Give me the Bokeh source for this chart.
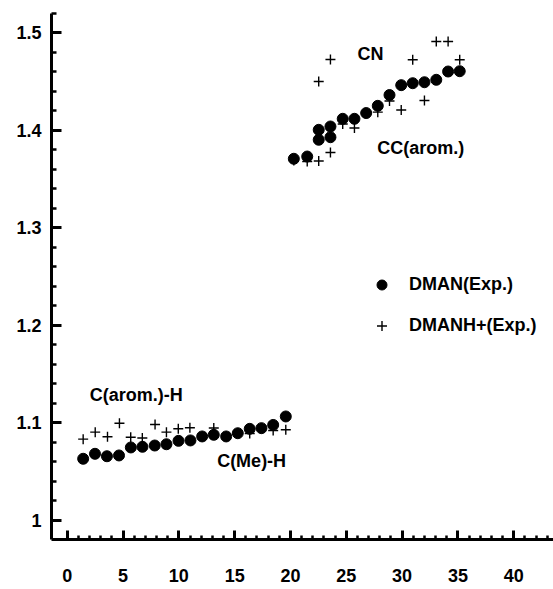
from bokeh.plotting import figure
from bokeh.models import (Range1d, FixedTicker, CustomJSTickFormatter, Label,
                          Legend, LegendItem)
from bokeh.embed import file_html
from bokeh.resources import INLINE

# DMAN (Exp.) bond lengths (filled circles)
dman_x = [1.43, 2.49, 3.56, 4.64, 5.70, 6.74, 7.84, 8.89, 9.97, 11.04,
          12.09, 13.13, 14.24, 15.28, 16.35, 17.40, 18.45, 19.58,
          20.30, 21.50, 22.53, 22.53, 23.58, 23.58, 24.68, 25.73, 26.78,
          27.82, 28.87, 29.92, 30.95, 32.00, 33.06, 34.12, 35.16]
dman_y = [1.0633, 1.0684, 1.0659, 1.0667, 1.0749, 1.0756, 1.0769, 1.0782,
          1.0817, 1.0821, 1.0862, 1.0879, 1.0862, 1.0895, 1.0940, 1.0947,
          1.0980, 1.1067,
          1.3710, 1.3733, 1.4007, 1.3905, 1.4041, 1.3931, 1.4120, 1.4120,
          1.4179, 1.4253, 1.4364, 1.4465, 1.4485, 1.4495, 1.4520, 1.4605,
          1.4608]

# DMANH+ (Exp.) bond lengths (crosses)
dmanh_x = [1.43, 2.51, 3.61, 4.68, 5.69, 6.73, 7.87, 8.89, 9.95, 10.99,
           12.09, 13.13, 14.24, 15.28, 16.35, 17.40, 18.45, 19.58,
           20.30, 21.50, 22.53, 22.53, 23.58, 23.58, 24.68, 25.73, 26.78,
           27.82, 28.87, 29.92, 30.95, 32.00, 33.06, 34.12, 35.16]
dmanh_y = [1.0834, 1.0906, 1.0859, 1.0997, 1.0854, 1.0846, 1.0985, 1.0906,
           1.0941, 1.0951, 1.0862, 1.0949, 1.0865, 1.0895, 1.0892, 1.0947,
           1.0923, 1.0930,
           1.3692, 1.3682, 1.3687, 1.4503, 1.3774, 1.4728, 1.4067, 1.4026,
           1.4174, 1.4188, 1.4303, 1.4210, 1.4725, 1.4308, 1.4913, 1.4913,
           1.4725]

x_major = [0, 5, 10, 15, 20, 25, 30, 35, 40]
x_minor = list(range(0, 45))
y_major = [1.0, 1.1, 1.2, 1.3, 1.4, 1.5]
y_minor = [round(1.0 + 0.02 * i, 2) for i in range(0, 27)]

FONT = "Liberation Sans"

p = figure(width=553, height=589, output_backend="svg", toolbar_location=None,
           x_range=Range1d(-1.406, 43.56), y_range=Range1d(0.9805, 1.52),
           min_border_left=51, min_border_right=0, min_border_top=13,
           min_border_bottom=50)
p.outline_line_color = None
p.grid.visible = False
p.background_fill_color = "white"
p.border_fill_color = "white"

for ax in (p.xaxis[0], p.yaxis[0]):
    ax.axis_line_width = 3
    ax.axis_line_color = "black"
    ax.major_tick_out = 0
    ax.minor_tick_out = 0
    ax.major_tick_line_width = 3
    ax.minor_tick_line_width = 2.5
    ax.major_tick_line_color = "black"
    ax.minor_tick_line_color = "black"
    ax.major_label_text_font = FONT
    ax.major_label_text_font_style = "bold"
    ax.major_label_text_font_size = "18px"
    ax.major_label_text_color = "black"

xa = p.xaxis[0]
xa.ticker = FixedTicker(ticks=x_major, minor_ticks=x_minor)
xa.major_tick_in = 9
xa.minor_tick_in = 4
xa.major_label_standoff = 29

ya = p.yaxis[0]
ya.ticker = FixedTicker(ticks=y_major, minor_ticks=y_minor)
ya.major_tick_in = 10
ya.minor_tick_in = 5
ya.major_label_standoff = 10
ya.formatter = CustomJSTickFormatter(code="return (Math.round(tick*10)/10).toString();")

r_cross = p.scatter(dmanh_x, dmanh_y, marker="cross", size=10,
                    line_color="black", line_width=1.4)
r_circ = p.scatter(dman_x, dman_y, marker="circle", size=11,
                   fill_color="black", line_color="black")

def add_label(x, y, text):
    p.add_layout(Label(x=x, y=y, text=text, text_font=FONT,
                       text_font_style="bold", text_font_size="18px",
                       text_align="left", text_baseline="middle",
                       text_color="black"))

add_label(26.0, 1.478, "CN")
add_label(27.77, 1.3823, "CC(arom.)")
add_label(2.02, 1.1282, "C(arom.)-H")
add_label(13.43, 1.0615, "C(Me)-H")

legend = Legend(items=[LegendItem(label="DMAN(Exp.)", renderers=[r_circ]),
                       LegendItem(label="DMANH+(Exp.)", renderers=[r_cross])],
                location=(318, 201), glyph_width=25, glyph_height=25,
                label_standoff=15, spacing=16, padding=0, margin=0,
                border_line_color=None, background_fill_alpha=0,
                label_text_font=FONT, label_text_font_style="bold",
                label_text_font_size="18px", label_text_color="black")
p.add_layout(legend)

open("out.html", "w").write(file_html(p, INLINE))
